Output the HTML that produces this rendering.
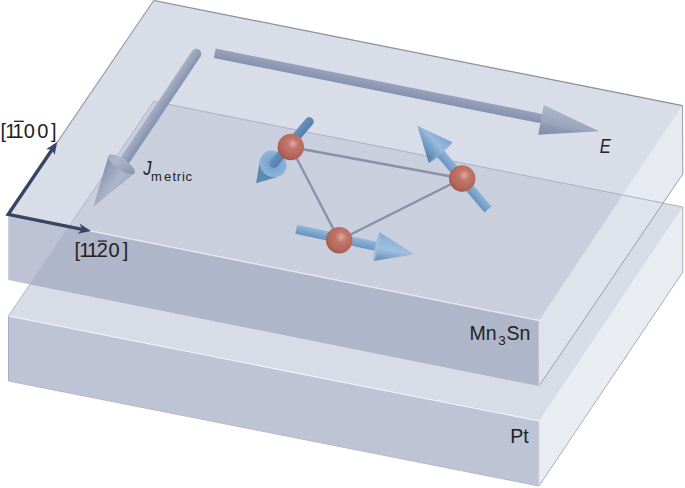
<!DOCTYPE html>
<html><head><meta charset="utf-8"><title>Mn3Sn / Pt</title>
<style>html,body{margin:0;padding:0;background:#fff}svg{display:block}text{font-family:"Liberation Sans",sans-serif;fill:#222}</style>
</head><body>
<svg width="685" height="488" viewBox="0 0 685 488">
<defs>
<clipPath id="cpt"><polygon points="8.5,316.0 153.7,101.5 682.8,207.0 539.0,421.0"/></clipPath>
<radialGradient id="atom" cx="0.58" cy="0.38" r="0.66">
<stop offset="0" stop-color="#dab0a5"/><stop offset="0.3" stop-color="#c1776a"/><stop offset="0.75" stop-color="#b5655a"/><stop offset="1" stop-color="#9e554b"/>
</radialGradient>
<radialGradient id="base1" cx="0.5" cy="0.5" r="0.5">
<stop offset="0" stop-color="#6e9bc9"/><stop offset="0.55" stop-color="#7ea9d3"/><stop offset="1" stop-color="#8fb6dc"/>
</radialGradient>
<linearGradient id="shaftE" gradientUnits="userSpaceOnUse" x1="380" y1="80" x2="378" y2="92"><stop offset="0" stop-color="#a1abc3"/><stop offset="1" stop-color="#7f8eac"/></linearGradient>
<linearGradient id="headE" gradientUnits="userSpaceOnUse" x1="545" y1="105" x2="539" y2="135"><stop offset="0" stop-color="#aeb6cb"/><stop offset="0.55" stop-color="#99a4bd"/><stop offset="0.68" stop-color="#8d99b4"/><stop offset="1" stop-color="#808eab"/></linearGradient>
<linearGradient id="shaftJ" gradientUnits="userSpaceOnUse" x1="150" y1="104" x2="160" y2="111"><stop offset="0" stop-color="#a6afc6"/><stop offset="1" stop-color="#8492af"/></linearGradient>
<linearGradient id="headJ" gradientUnits="userSpaceOnUse" x1="103" y1="168" x2="131" y2="187"><stop offset="0" stop-color="#8995b0"/><stop offset="0.55" stop-color="#aeb6cb"/><stop offset="1" stop-color="#98a3bc"/></linearGradient>
<linearGradient id="head2" gradientUnits="userSpaceOnUse" x1="426" y1="154" x2="448" y2="135"><stop offset="0" stop-color="#5b85b0"/><stop offset="0.5" stop-color="#98badd"/><stop offset="1" stop-color="#7aa2cb"/></linearGradient>
<linearGradient id="head3" gradientUnits="userSpaceOnUse" x1="390" y1="234" x2="385" y2="262"><stop offset="0" stop-color="#86aad1"/><stop offset="0.55" stop-color="#a0c0e0"/><stop offset="1" stop-color="#658eba"/></linearGradient>
<linearGradient id="g0" gradientUnits="userSpaceOnUse" x1="377.2" y1="90.7" x2="379.1" y2="81.2"><stop offset="0" stop-color="#8491ae"/><stop offset="1" stop-color="#98a2bb"/></linearGradient>
<linearGradient id="g1" gradientUnits="userSpaceOnUse" x1="155.0" y1="106.2" x2="163.4" y2="111.9"><stop offset="0" stop-color="#a6afc5"/><stop offset="1" stop-color="#8592ae"/></linearGradient>
<linearGradient id="g2" gradientUnits="userSpaceOnUse" x1="288.1" y1="139.6" x2="294.9" y2="145.4"><stop offset="0" stop-color="#6892bc"/><stop offset="1" stop-color="#557eaa"/></linearGradient>
<linearGradient id="g3" gradientUnits="userSpaceOnUse" x1="467.9" y1="178.6" x2="460.9" y2="184.6"><stop offset="0" stop-color="#8db5da"/><stop offset="1" stop-color="#6893bf"/></linearGradient>
<linearGradient id="g4" gradientUnits="userSpaceOnUse" x1="335.7" y1="242.4" x2="337.7" y2="233.5"><stop offset="0" stop-color="#6893bf"/><stop offset="1" stop-color="#90b8dd"/></linearGradient>
</defs>
<rect width="685" height="488" fill="#fff"/>
<!-- Pt slab -->
<polygon points="8.5,316.0 539.0,421.0 539.0,486.0 8.5,381.0" fill="#bec4d6"/>
<polygon points="539.0,421.0 682.8,207.0 682.8,272.0 539.0,486.0" fill="#e9ecf1"/>
<polygon points="8.5,316.0 153.7,101.5 682.8,207.0 539.0,421.0" fill="#d8dce6"/>
<line x1="682.8" y1="272.0" x2="539.0" y2="486.0" stroke="#a9aebd" stroke-width="1" />
<line x1="8.5" y1="316.0" x2="539.0" y2="421.0" stroke="#f2f4f8" stroke-width="1.2" />
<line x1="8.5" y1="316.0" x2="8.5" y2="381.0" stroke="#a9afc1" stroke-width="1" />
<line x1="8.5" y1="381.0" x2="539.0" y2="486.0" stroke="#b2b8c9" stroke-width="1" />
<!-- Mn3Sn slab -->
<polygon points="8.2,214.4 153.7,0.5 682.5,105.7 539.2,320.5" fill="#d9dde7"/>
<polygon points="8.2,214.4 539.2,320.5 539.2,386.0 8.2,279.9" fill="#bdc3d5"/>
<polygon points="539.2,320.5 682.5,105.7 682.8,174.0 539.4,385.5" fill="#e7eaf0"/>
<g clip-path="url(#cpt)">
<polygon points="8.2,214.4 153.7,0.5 682.5,105.7 539.2,320.5" fill="#cacfdd"/>
<polygon points="8.2,214.4 539.2,320.5 539.2,386.0 8.2,279.9" fill="#b0b6ca"/>
<polygon points="539.2,320.5 682.5,105.7 682.8,174.0 539.4,385.5" fill="#dfe3eb"/>
</g>
<line x1="153.7" y1="101.5" x2="8.5" y2="316.0" stroke="#b0b6c7" stroke-width="1" />
<line x1="153.7" y1="101.5" x2="682.8" y2="207.0" stroke="#abb1c3" stroke-width="1" />
<line x1="8.2" y1="214.4" x2="153.7" y2="0.5" stroke="#9097a8" stroke-width="1.1" />
<line x1="153.7" y1="0.5" x2="682.5" y2="105.7" stroke="#878e9f" stroke-width="1.2" />
<line x1="682.5" y1="105.7" x2="682.8" y2="174.0" stroke="#9aa0b0" stroke-width="1" />
<line x1="682.8" y1="207.0" x2="682.8" y2="272.0" stroke="#a9aebc" stroke-width="1" />
<line x1="682.8" y1="174.0" x2="539.4" y2="385.5" stroke="#999fb1" stroke-width="1" />
<line x1="90.0" y1="230.8" x2="539.2" y2="320.5" stroke="#e6e9f0" stroke-width="1.4" />
<line x1="539.2" y1="320.5" x2="539.4" y2="385.5" stroke="#dfe3ec" stroke-width="1.2" />
<line x1="539.0" y1="421.0" x2="539.0" y2="486.0" stroke="#d5d9e5" stroke-width="1" />
<line x1="214.8" y1="53.3" x2="541.5" y2="118.6" stroke="url(#g0)" stroke-width="9.6" stroke-linecap="butt"/>
<polygon points="543.8,105 599,131.2 538.2,134.7" fill="url(#headE)"/>
<line x1="196.2" y1="53.8" x2="122.2" y2="164.3" stroke="url(#g1)" stroke-width="10.2" stroke-linecap="round"/>
<polygon points="93.3,207.0 108.3,156.2 134.2,173.4" fill="url(#headJ)"/><ellipse cx="121.6" cy="164.3" rx="15.6" ry="5.5" transform="rotate(-146.5 121.6 164.3)" fill="url(#headJ)"/>
<line x1="290.8" y1="147.0" x2="462.2" y2="178.5" stroke="#8891a7" stroke-width="2.4" />
<line x1="462.2" y1="178.5" x2="339.2" y2="240.2" stroke="#8891a7" stroke-width="2.4" />
<line x1="339.2" y1="240.2" x2="290.8" y2="147.0" stroke="#8891a7" stroke-width="2.4" />
<polygon points="256.1,183.3 259.9,160.6 278.1,176.7" fill="#5f88b2"/><ellipse cx="273.2" cy="163.9" rx="14.0" ry="12.8" transform="rotate(-138.6 273.2 163.9)" fill="url(#base1)"/>
<line x1="309.2" y1="121.6" x2="273.8" y2="163.4" stroke="url(#g2)" stroke-width="9.0" stroke-linecap="round"/>
<line x1="488.0" y1="209.5" x2="440.8" y2="153.7" stroke="url(#g3)" stroke-width="9.2" stroke-linecap="butt"/>
<polygon points="417.3,125.8 452.1,142.1 428.6,162.6" fill="url(#head2)"/><ellipse cx="440.4" cy="152.4" rx="15.6" ry="1.6" transform="rotate(-41.0 440.4 152.4)" fill="url(#head2)"/>
<line x1="296.2" y1="229.3" x2="377.2" y2="246.6" stroke="url(#g4)" stroke-width="9.2" stroke-linecap="butt"/>
<polygon points="414.3,254.3 373.8,260.9 379.7,232.3" fill="url(#head3)"/><ellipse cx="376.7" cy="246.6" rx="14.6" ry="1.5" transform="rotate(101.6 376.7 246.6)" fill="url(#head3)"/>
<circle cx="290.8" cy="147.0" r="13.2" fill="url(#atom)"/>
<circle cx="462.2" cy="178.5" r="13.2" fill="url(#atom)"/>
<circle cx="339.2" cy="240.2" r="13.2" fill="url(#atom)"/>
<polyline points="55.2,145 8.2,214.4 86,230.1" fill="none" stroke="#364563" stroke-width="3.4" stroke-linejoin="miter"/>
<polygon points="57.1,142.1 54.6,155.0 52.2,149.4 46.1,149.2" fill="#364563"/>
<polygon points="90.9,231.1 77.6,233.7 82.2,229.3 79.5,223.6" fill="#364563"/>
<text x="0.4 5.2 12.6 23.7 37.3 51.0" y="138" font-size="20">[1100]</text>
<line x1="14" y1="121.3" x2="23.8" y2="121.3" stroke="#222" stroke-width="1.3"/>
<text x="74.6 79.3 86.9 96.8 108.6 122.7" y="256.9" font-size="20">[1120]</text>
<line x1="97.9" y1="241.1" x2="106.8" y2="241.1" stroke="#222" stroke-width="1.3"/>
<text x="143.2" y="174.7" font-size="20" font-style="italic" textLength="8.2" lengthAdjust="spacingAndGlyphs">J</text>
<text x="151.0 164.0 172.4 176.8 182.1 185.5" y="180.5" font-size="13">metric</text>
<text x="599.8" y="152.5" font-size="20" font-style="italic" textLength="11" lengthAdjust="spacingAndGlyphs">E</text>
<text y="340" font-size="19.5"><tspan x="469.5">Mn</tspan><tspan x="498.2" dy="5.4" font-size="13.5">3</tspan><tspan x="506.5" dy="-5.4">Sn</tspan></text>
<text x="510.3" y="443.3" font-size="19.5">Pt</text>
</svg>
</body></html>
